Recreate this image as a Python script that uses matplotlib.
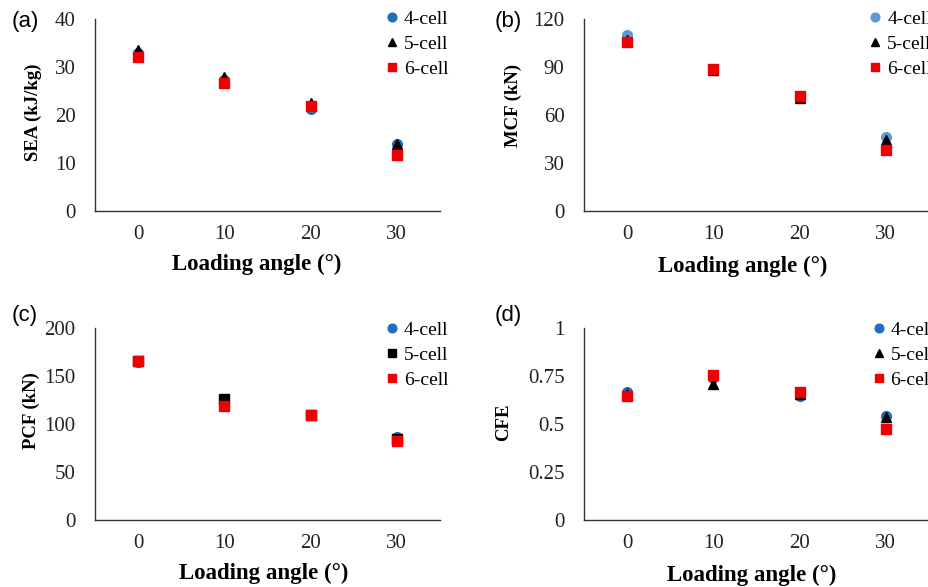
import matplotlib
matplotlib.use("Agg")
import matplotlib.pyplot as plt
import numpy as np

# ── Data ─────────────────────────────────────────────────────────────────────
angles = ["0", "10", "20", "30"]
series_names = ["4-cell", "5-cell", "6-cell"]

sea_4 = [33.0, 27.3, 21.2, 13.9]
sea_5 = [33.5, 28.0, 22.6, 14.0]
sea_6 = [32.0, 26.7, 21.8, 11.6]

mcf_4 = [110.0, 88.0, 71.0, 46.3]
mcf_5 = [107.0, 88.2, 70.4, 44.3]
mcf_6 = [105.4, 88.5, 71.8, 38.4]

pcf_4 = [165.0, 123.0, 109.5, 86.5]
pcf_5 = [165.2, 126.4, 109.6, 84.7]
pcf_6 = [165.3, 118.4, 109.7, 82.0]

cfe_4 = [0.667, 0.740, 0.644, 0.540]
cfe_5 = [0.655, 0.708, 0.655, 0.536]
cfe_6 = [0.646, 0.753, 0.667, 0.476]

# ── Style ────────────────────────────────────────────────────────────────────
SERIF = "Liberation Serif"
SANS = "Liberation Sans"
RED = "#f00000"
BLACK = "#000000"

panels = [
    dict(rect=(95, 211, 345, 192), ylabel="SEA (kJ/kg)", ylim=(0, 40),
         yticks=[0, 10, 20, 30, 40], yfmt=["0", "10", "20", "30", "40"],
         data=[sea_4, sea_5, sea_6], blue="#1f6fc0", m5="^", letter="(a)",
         ylab=(-0.154, 0.516), xlab=(0.47, -0.225), leg=(0.845, 1.045), tag=(25, 21)),
    dict(rect=(584, 211, 345, 192), ylabel="MCF (kN)", ylim=(0, 120),
         yticks=[0, 30, 60, 90, 120], yfmt=["0", "30", "60", "90", "120"],
         data=[mcf_4, mcf_5, mcf_6], blue="#5b9bd5", m5="^", letter="(b)",
         ylab=(-0.18, 0.55), xlab=(0.46, -0.235), leg=(0.828, 1.045), tag=(508, 22)),
    dict(rect=(95, 520, 345, 192), ylabel="PCF (kN)", ylim=(0, 200),
         yticks=[0, 50, 100, 150, 200], yfmt=["0", "50", "100", "150", "200"],
         data=[pcf_4, pcf_5, pcf_6], blue="#1f6fc0", m5="s", letter="(c)",
         ylab=(-0.16, 0.57), xlab=(0.49, -0.222), leg=(0.845, 1.035), tag=(25, 315)),
    dict(rect=(584, 520, 345, 192), ylabel="CFE", ylim=(0, 1),
         yticks=[0, 0.25, 0.5, 0.75, 1], yfmt=["0", "0.25", "0.5", "0.75", "1"],
         data=[cfe_4, cfe_5, cfe_6], blue="#1f6fc0", m5="^", letter="(d)",
         ylab=(-0.209, 0.51), xlab=(0.487, -0.236), leg=(0.838, 1.035), tag=(508, 315)),
]

W, H = 929, 587
fig = plt.figure(figsize=(W / 100, H / 100), dpi=100)

x = np.arange(len(angles))

for p in panels:
    l, b, w, h = p["rect"]
    ax = fig.add_axes([l / W, (H - b) / H, w / W, h / H])

    colors = [p["blue"], BLACK, RED]
    markers = ["o", p["m5"], "s"]
    for name, vals, c, m in zip(series_names, p["data"], colors, markers):
        ax.plot(x, vals, linestyle="none", marker=m, markersize=7,
                color=c, markeredgecolor=c, label=name, clip_on=False)

    ax.set_xlim(-0.5, 3.5)
    ax.set_ylim(*p["ylim"])
    ax.set_xticks(x)
    ax.set_xticklabels(angles, fontfamily=SERIF, fontsize=15, color="#222222")
    ax.set_yticks(p["yticks"])
    ax.set_yticklabels(p["yfmt"], fontfamily=SERIF, fontsize=15, color="#222222")
    ax.tick_params(axis="both", length=0)
    ax.tick_params(axis="x", pad=10)
    ax.tick_params(axis="y", pad=14)

    for side in ("top", "right"):
        ax.spines[side].set_visible(False)
    for side in ("left", "bottom"):
        ax.spines[side].set_color("#333333")
        ax.spines[side].set_linewidth(1.0)

    ax.set_ylabel(p["ylabel"], fontfamily=SERIF, fontsize=13.5, fontweight="bold")
    ax.yaxis.set_label_coords(*p["ylab"])
    ax.set_xlabel("Loading angle (°)", fontfamily=SERIF, fontsize=16.5, fontweight="bold")
    ax.xaxis.set_label_coords(*p["xlab"])

    ax.legend(loc="upper left", bbox_to_anchor=p["leg"], frameon=False,
              prop={"family": SERIF, "size": 14}, handlelength=0.6,
              handletextpad=0.3, labelspacing=0.38, borderpad=0, borderaxespad=0,
              markerscale=0.9)

    tx, ty = p["tag"]
    fig.text(tx / W, 1 - ty / H, p["letter"], fontfamily=SANS, fontsize=16,
             ha="center", va="center")

fig.savefig("out.png", dpi=100)
